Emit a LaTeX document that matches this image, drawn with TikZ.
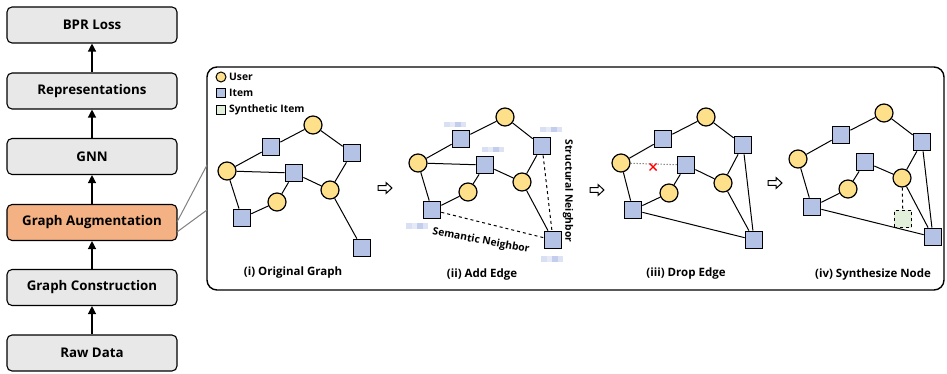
\documentclass[tikz,border=0pt]{standalone}
\usepackage{fontspec}
\setmainfont{Open Sans}
\usetikzlibrary{arrows.meta}
\definecolor{ucol}{HTML}{FFE08A}
\definecolor{icol}{HTML}{B4C2E6}
\definecolor{scol}{HTML}{E2EFDA}
\definecolor{boxgray}{HTML}{E8E8E8}
\definecolor{boxorange}{HTML}{F4B183}
\definecolor{eA}{HTML}{D9E0F3}
\definecolor{eB}{HTML}{E6EAF6}
\definecolor{eC}{HTML}{C3CDEE}
\definecolor{eD}{HTML}{DDE3F4}
\begin{document}
\begin{tikzpicture}[x=1pt,y=-1pt,
  user/.style={circle, draw, fill=ucol, line width=1.2pt, minimum size=18pt, inner sep=0pt},
  item/.style={rectangle, draw, fill=icol, line width=1.2pt, minimum size=17.5pt, inner sep=0pt},
  synitem/.style={rectangle, draw, dashed, fill=scol, line width=1.2pt, minimum size=17.5pt, inner sep=0pt},
  stagebox/.style={rounded corners=5pt, draw, fill=boxgray, line width=1.1pt, minimum width=170pt, minimum height=36pt, font=\bfseries\fontsize{13.3}{15}\selectfont},
  upflow/.style={-{Triangle[length=8pt,width=8pt]}, line width=1.3pt},
  edge/.style={line width=1pt},
  caption/.style={font=\fontsize{11.5}{13}\selectfont\bfseries},
  legtext/.style={font=\fontsize{10.3}{12}\selectfont\bfseries, anchor=west, inner sep=0pt},
  pics/harrow/.style={code={\draw[fill=white, line width=1pt, line join=miter] (-7,-2.3) -- (1,-2.3) -- (1,-5.5) -- (7,0) -- (1,5.5) -- (1,2.3) -- (-7,2.3) -- cycle;}},
  pics/emb/.style={code={
    \fill[eA] (0,0) rectangle (5.5,5.5);
    \fill[eB] (5.5,0) rectangle (11,5.5);
    \fill[eC] (11,0) rectangle (16.5,5.5);
    \fill[eD] (16.5,0) rectangle (22,5.5);}}
]
\useasboundingbox (0,0) rectangle (947,374);

% pipeline
\node[stagebox] (bpr) at (92,25) {BPR Loss};
\node[stagebox] (rep) at (92,91) {Representations};
\node[stagebox] (gnn) at (92,156.5) {GNN};
\node[stagebox, fill=boxorange] (ga) at (92,222.5) {Graph Augmentation};
\node[stagebox] (gc) at (92,287.5) {Graph Construction};
\node[stagebox] (raw) at (92,353) {Raw Data};
\draw[upflow] (raw.north) -- (gc.south);
\draw[upflow] (gc.north) -- (ga.south);
\draw[upflow] (ga.north) -- (gnn.south);
\draw[upflow] (gnn.north) -- (rep.south);
\draw[upflow] (rep.north) -- (bpr.south);

% panel
\node[draw, rounded corners=10pt, line width=1.4pt, minimum width=737pt, minimum height=223pt, inner sep=0pt] (panel) at (575.5,178.5) {};
\coordinate (ga1) at (177,222);
\coordinate (ga2) at (177,232);
\coordinate (pa1) at (207,165);
\coordinate (pa2) at (207,210);
\draw[gray, line width=1pt] (ga1) -- (pa1);
\draw[gray, line width=1pt] (ga2) -- (pa2);

% legend
\node[circle, draw, fill=ucol, line width=1pt, minimum size=10pt, inner sep=0pt] (lu) at (221,77) {};
\node[legtext] (lut) at (229,77) {User};
\node[rectangle, draw, fill=icol, line width=1pt, minimum size=9.5pt, inner sep=0pt] (li) at (221,93) {};
\node[legtext] (lit) at (229,93) {Item};
\node[rectangle, draw, fill=scol, line width=1pt, minimum size=9.5pt, inner sep=0pt] (ls) at (221,110) {};
\node[legtext] (lst) at (229,110) {Synthetic Item};

% (i) Original Graph
\node[user] (aU1) at (313,125) {};
\node[item] (aI1) at (271,147) {};
\node[item] (aI2) at (352,153) {};
\node[user] (aU2) at (227,171) {};
\node[item] (aI3) at (294,173) {};
\node[user] (aU3) at (330,190) {};
\node[user] (aU4) at (277,202) {};
\node[item] (aI4) at (242,218) {};
\node[item] (aI5) at (362,248) {};
\draw[edge] (aU2) -- (aI1) (aI1) -- (aU1) (aU1) -- (aI2) (aI2) -- (aU3)
  (aU2) -- (aI3) (aI3) -- (aU3) (aI3) -- (aU4) (aU4) -- (aI4) (aI4) -- (aU2) (aU3) -- (aI5);
\node[caption] (capa) at (293,273) {(i) Original Graph};

\pic at (385,188) {harrow};

% (ii) Add Edge
\node[user] (bU1) at (505,117) {};
\node[item] (bI1) at (461,139) {};
\node[item] (bI2) at (542,146) {};
\node[user] (bU2) at (418,163) {};
\node[item] (bI3) at (485,165) {};
\node[user] (bU3) at (522,182) {};
\node[user] (bU4) at (468,192) {};
\node[item] (bI4) at (432,210) {};
\node[item] (bI5) at (553,240) {};
\draw[edge] (bU2) -- (bI1) (bI1) -- (bU1) (bU1) -- (bI2) (bI2) -- (bU3)
  (bU2) -- (bI3) (bI3) -- (bU3) (bI3) -- (bU4) (bU4) -- (bI4) (bI4) -- (bU2) (bU3) -- (bI5);
\draw[edge, dashed] (bI2) -- (bI5);
\draw[edge, dashed] (bI4) -- (bI5);
\pic at (444,122) {emb};
\pic at (482,147) {emb};
\pic at (540,127) {emb};
\pic at (406,223) {emb};
\pic at (541,256) {emb};
\node[font=\fontsize{10.3}{12}\selectfont\bfseries, rotate=-90] (sn) at (568,191) {Structural Neighbor};
\node[font=\fontsize{10.3}{12}\selectfont\bfseries, rotate=-10.5] (smn) at (481,241) {Semantic Neighbor};
\node[caption] (capb) at (482,275) {(ii) Add Edge};

\pic at (597,190) {harrow};

% (iii) Drop Edge
\node[user] (cU1) at (706,117) {};
\node[item] (cI1) at (663,139) {};
\node[item] (cI2) at (743,145) {};
\node[user] (cU2) at (621,163) {};
\node[item] (cI3) at (686,165) {};
\node[user] (cU3) at (723,183) {};
\node[user] (cU4) at (669,193) {};
\node[item] (cI4) at (633,210) {};
\node[item] (cI5) at (754,240) {};
\draw[edge] (cU2) -- (cI1) (cI1) -- (cU1) (cU1) -- (cI2) (cI2) -- (cU3) (cI2) -- (cI5)
  (cI3) -- (cU3) (cI3) -- (cU4) (cU4) -- (cI4) (cI4) -- (cU2) (cU3) -- (cI5) (cI4) -- (cI5);
\draw[line width=1pt, dotted, black!70] (cU2) -- (cI3);
\coordinate (xm) at (653,167);
\draw[red, line width=1.4pt] ([shift={(-3.5,-3.5)}]xm) -- ([shift={(3.5,3.5)}]xm);
\draw[red, line width=1.4pt] ([shift={(-3.5,3.5)}]xm) -- ([shift={(3.5,-3.5)}]xm);
\node[caption] (capc) at (686,274) {(iii) Drop Edge};

\pic at (775,183) {harrow};

% (iv) Synthesize Node
\node[user] (dU1) at (884,113) {};
\node[item] (dI1) at (841,135) {};
\node[item] (dI2) at (922,142) {};
\node[user] (dU2) at (798,159) {};
\node[item] (dI3) at (865,162) {};
\node[user] (dU3) at (902,178) {};
\node[user] (dU4) at (848,189) {};
\node[item] (dI4) at (812,207) {};
\node[item] (dI5) at (933,237) {};
\node[synitem] (dS) at (903,219) {};
\draw[edge] (dU2) -- (dI1) (dI1) -- (dU1) (dU1) -- (dI2) (dI2) -- (dU3) (dI2) -- (dI5)
  (dI3) -- (dU3) (dI3) -- (dU4) (dU4) -- (dI4) (dI4) -- (dU2) (dU3) -- (dI5) (dI4) -- (dI5);
\draw[edge, dashed] (dU3) -- (dS);
\node[caption] (capd) at (873,275) {(iv) Synthesize Node};
\end{tikzpicture}
\end{document}
